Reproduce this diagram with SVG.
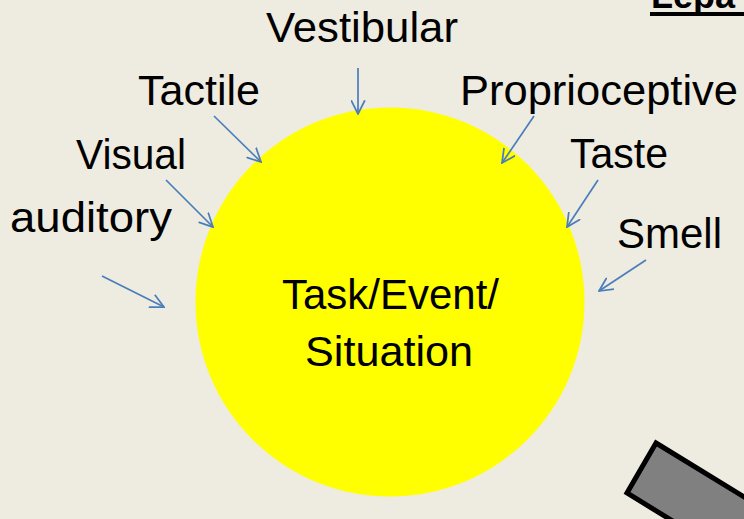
<svg xmlns="http://www.w3.org/2000/svg" width="744" height="519" viewBox="0 0 744 519">
  <style>
    .lbl { font-family: "Liberation Sans", "Open Sans", sans-serif; font-size: 42px; fill: #000; }
    .arrow { stroke: #4a7ebb; stroke-width: 1.7; fill: none; marker-end: url(#vhead); }
  </style>
  <defs>
    <marker id="vhead" viewBox="0 0 12 12" refX="11" refY="6" markerWidth="15" markerHeight="15" markerUnits="userSpaceOnUse" orient="auto">
      <path d="M0,0.5 L11,6 L0,11.5" fill="none" stroke="#4a7ebb" stroke-width="1.4"/>
    </marker>
  </defs>

  <!-- background -->
  <rect width="744" height="519" fill="#eeebe0"/>

  <!-- heading, cropped at the top edge -->
  <g id="heading">
    <text x="651" y="8" font-family="Liberation Sans, sans-serif" font-weight="bold" font-size="36" fill="#000">Lepa</text>
    <rect x="650" y="12" width="94" height="4" fill="#000"/>
  </g>

  <!-- central circle -->
  <g id="task">
    <circle cx="390" cy="302" r="194.5" fill="#ffff00"/>
    <text class="lbl" x="282" y="309" textLength="217" lengthAdjust="spacingAndGlyphs">Task/Event/</text>
    <text class="lbl" x="305" y="366" textLength="168" lengthAdjust="spacingAndGlyphs">Situation</text>
  </g>

  <!-- sense labels -->
  <g id="vestibular"><text class="lbl" x="266" y="42" textLength="192" lengthAdjust="spacingAndGlyphs">Vestibular</text></g>
  <g id="tactile"><text class="lbl" x="138" y="105" textLength="122" lengthAdjust="spacingAndGlyphs">Tactile</text></g>
  <g id="proprioceptive"><text class="lbl" x="460" y="105" textLength="278" lengthAdjust="spacingAndGlyphs">Proprioceptive</text></g>
  <g id="visual"><text class="lbl" x="76" y="169" textLength="110" lengthAdjust="spacingAndGlyphs">Visual</text></g>
  <g id="taste"><text class="lbl" x="570" y="168" textLength="98" lengthAdjust="spacingAndGlyphs">Taste</text></g>
  <g id="auditory"><text class="lbl" x="10" y="232" textLength="162" lengthAdjust="spacingAndGlyphs">auditory</text></g>
  <g id="smell"><text class="lbl" x="617" y="248" textLength="105" lengthAdjust="spacingAndGlyphs">Smell</text></g>

  <!-- connectors -->
  <g id="connectors">
    <line class="arrow" x1="358" y1="68" x2="358" y2="114"/>
    <line class="arrow" x1="214" y1="116" x2="261" y2="162"/>
    <line class="arrow" x1="166" y1="180" x2="213" y2="227"/>
    <line class="arrow" x1="102" y1="276" x2="164" y2="307"/>
    <line class="arrow" x1="534" y1="116" x2="502" y2="163"/>
    <line class="arrow" x1="598" y1="180" x2="567" y2="227"/>
    <line class="arrow" x1="646" y1="260" x2="599" y2="291"/>
  </g>

  <!-- grey bar, lower right -->
  <g id="bar">
    <polygon points="656,443 860,568 831,618 627,493" fill="#808080" stroke="#000" stroke-width="5" stroke-linejoin="miter"/>
  </g>
</svg>
